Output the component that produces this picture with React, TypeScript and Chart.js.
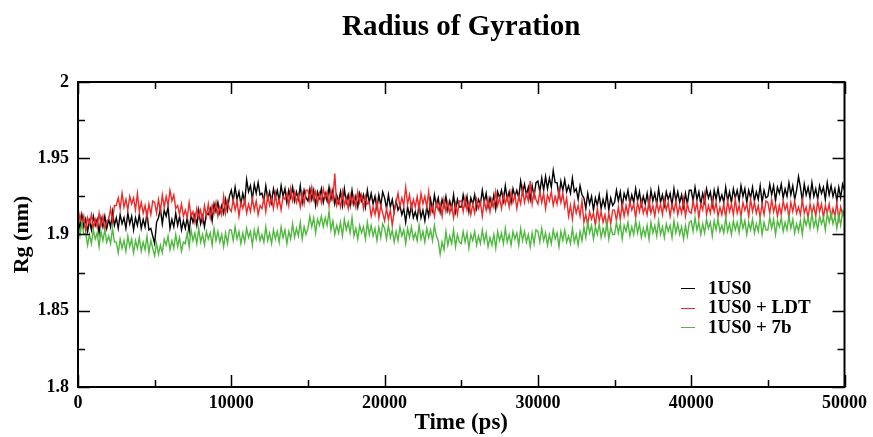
import React, { useEffect, useRef } from "react";
import { Chart, registerables } from "chart.js";

Chart.register(...registerables);

const TIME_STEP_PS = 125;

const rg1US0 = [
  1.911,1.904,1.913,1.905,1.910,1.902,1.909,1.903,1.912,1.906,1.910,1.901,1.911,1.905,1.912,1.904,1.910,1.905,1.915,1.906,1.911,1.904,1.913,1.907,1.911,1.904,1.914,1.907,1.912,1.903,1.911,1.906,1.913,1.904,1.910,1.905,1.914,1.903,1.904,1.899,
  1.894,1.908,1.911,1.917,1.907,1.916,1.912,1.918,1.904,1.910,1.905,1.914,1.906,1.912,1.903,1.909,1.904,1.911,1.902,1.913,1.908,1.913,1.906,1.916,1.907,1.912,1.905,1.914,1.913,1.917,1.909,1.920,1.915,1.921,1.914,1.919,1.914,1.923,1.916,1.925,
  1.929,1.922,1.931,1.923,1.928,1.920,1.927,1.921,1.936,1.928,1.932,1.923,1.933,1.927,1.934,1.926,1.927,1.922,1.932,1.923,1.928,1.921,1.930,1.924,1.929,1.922,1.932,1.925,1.930,1.921,1.929,1.924,1.931,1.922,1.928,1.923,1.932,1.921,1.929,1.924,
  1.922,1.930,1.923,1.929,1.919,1.928,1.924,1.930,1.921,1.927,1.922,1.931,1.923,1.929,1.920,1.926,1.921,1.928,1.919,1.930,1.921,1.926,1.919,1.929,1.920,1.925,1.918,1.927,1.922,1.926,1.918,1.929,1.921,1.927,1.920,1.925,1.917,1.926,1.919,1.928,
  1.924,1.917,1.926,1.918,1.923,1.915,1.922,1.916,1.919,1.913,1.917,1.908,1.918,1.912,1.919,1.911,1.915,1.910,1.920,1.911,1.916,1.909,1.918,1.912,1.923,1.916,1.926,1.919,1.924,1.915,1.923,1.918,1.925,1.916,1.922,1.917,1.926,1.915,1.923,1.918,
  1.918,1.926,1.919,1.925,1.915,1.924,1.920,1.926,1.917,1.923,1.920,1.929,1.921,1.927,1.918,1.924,1.919,1.926,1.917,1.928,1.924,1.929,1.922,1.932,1.923,1.928,1.921,1.930,1.925,1.929,1.924,1.935,1.927,1.933,1.926,1.931,1.923,1.932,1.925,1.934,
  1.935,1.928,1.937,1.929,1.938,1.930,1.937,1.931,1.942,1.934,1.934,1.925,1.935,1.929,1.936,1.928,1.932,1.927,1.937,1.928,1.930,1.923,1.932,1.926,1.924,1.917,1.927,1.920,1.925,1.916,1.924,1.919,1.926,1.917,1.923,1.918,1.927,1.916,1.924,1.919,
  1.921,1.929,1.922,1.928,1.918,1.927,1.923,1.929,1.920,1.926,1.921,1.930,1.922,1.928,1.919,1.925,1.920,1.927,1.918,1.929,1.922,1.927,1.920,1.930,1.921,1.926,1.919,1.928,1.923,1.927,1.919,1.930,1.922,1.928,1.921,1.926,1.918,1.927,1.920,1.929,
  1.929,1.922,1.931,1.923,1.928,1.920,1.927,1.921,1.930,1.924,1.928,1.919,1.929,1.923,1.930,1.922,1.926,1.921,1.931,1.922,1.928,1.921,1.930,1.924,1.929,1.922,1.932,1.925,1.930,1.921,1.929,1.924,1.931,1.922,1.928,1.923,1.932,1.921,1.929,1.924,
  1.925,1.933,1.926,1.932,1.922,1.931,1.927,1.933,1.924,1.930,1.925,1.934,1.926,1.932,1.923,1.929,1.938,1.931,1.922,1.933,1.926,1.931,1.924,1.934,1.925,1.930,1.923,1.932,1.927,1.931,1.923,1.934,1.926,1.932,1.925,1.930,1.922,1.931,1.924,1.933,1.929,
];

const rgLDT = [
  1.905,1.913,1.906,1.912,1.902,1.911,1.907,1.913,1.904,1.910,1.905,1.914,1.906,1.912,1.903,1.909,1.910,1.917,1.908,1.919,1.919,1.924,1.917,1.927,1.918,1.923,1.916,1.925,1.920,1.924,1.916,1.927,1.915,1.921,1.914,1.919,1.911,1.920,1.913,1.922,
  1.921,1.914,1.923,1.915,1.926,1.918,1.925,1.919,1.929,1.922,1.926,1.917,1.919,1.913,1.920,1.912,1.916,1.911,1.921,1.912,1.915,1.908,1.917,1.911,1.916,1.909,1.919,1.912,1.920,1.911,1.919,1.914,1.921,1.912,1.918,1.913,1.925,1.914,1.922,1.917,
  1.915,1.923,1.916,1.922,1.912,1.921,1.917,1.923,1.914,1.920,1.915,1.924,1.916,1.922,1.913,1.919,1.917,1.924,1.915,1.926,1.919,1.924,1.917,1.927,1.918,1.923,1.916,1.925,1.923,1.927,1.919,1.930,1.922,1.928,1.921,1.926,1.918,1.927,1.920,1.929,
  1.929,1.922,1.931,1.923,1.928,1.920,1.927,1.921,1.930,1.924,1.928,1.919,1.929,1.923,1.940,1.919,1.923,1.918,1.928,1.919,1.924,1.917,1.926,1.920,1.925,1.918,1.928,1.921,1.926,1.917,1.925,1.920,1.921,1.912,1.918,1.913,1.922,1.911,1.919,1.914,
  1.909,1.917,1.910,1.916,1.906,1.915,1.921,1.927,1.918,1.924,1.919,1.931,1.920,1.926,1.917,1.923,1.918,1.925,1.916,1.927,1.920,1.925,1.918,1.928,1.914,1.919,1.912,1.921,1.916,1.920,1.912,1.923,1.915,1.921,1.914,1.919,1.911,1.920,1.913,1.922,
  1.922,1.915,1.924,1.916,1.921,1.913,1.920,1.914,1.923,1.917,1.921,1.912,1.922,1.916,1.923,1.915,1.923,1.918,1.928,1.919,1.924,1.917,1.926,1.920,1.925,1.918,1.928,1.921,1.926,1.917,1.925,1.920,1.930,1.921,1.927,1.922,1.935,1.920,1.928,1.923,
  1.920,1.928,1.921,1.927,1.917,1.926,1.922,1.928,1.919,1.925,1.920,1.929,1.921,1.927,1.918,1.924,1.912,1.919,1.910,1.921,1.914,1.919,1.912,1.922,1.908,1.913,1.906,1.915,1.910,1.914,1.906,1.917,1.909,1.915,1.908,1.913,1.905,1.914,1.907,1.916,
  1.916,1.909,1.918,1.910,1.920,1.912,1.919,1.913,1.922,1.916,1.920,1.911,1.921,1.915,1.922,1.914,1.918,1.913,1.923,1.914,1.919,1.912,1.921,1.915,1.920,1.913,1.923,1.916,1.921,1.912,1.920,1.915,1.922,1.913,1.919,1.914,1.923,1.912,1.920,1.915,
  1.914,1.922,1.915,1.921,1.911,1.920,1.916,1.926,1.913,1.919,1.914,1.923,1.915,1.921,1.912,1.918,1.913,1.920,1.911,1.922,1.915,1.920,1.913,1.923,1.914,1.919,1.912,1.921,1.916,1.920,1.912,1.923,1.915,1.921,1.914,1.919,1.911,1.920,1.913,1.922,
  1.921,1.914,1.923,1.915,1.920,1.912,1.919,1.913,1.922,1.916,1.920,1.911,1.921,1.915,1.922,1.914,1.918,1.913,1.923,1.914,1.918,1.911,1.920,1.914,1.919,1.912,1.922,1.915,1.920,1.911,1.919,1.914,1.920,1.911,1.917,1.912,1.921,1.910,1.918,1.913,1.916,
];

const rg7b = [
  1.906,1.899,1.908,1.900,1.901,1.893,1.900,1.894,1.903,1.897,1.901,1.892,1.902,1.896,1.903,1.895,1.899,1.894,1.904,1.895,1.895,1.888,1.897,1.891,1.896,1.889,1.899,1.892,1.897,1.888,1.896,1.891,1.898,1.889,1.895,1.890,1.899,1.888,1.896,1.891,
  1.886,1.894,1.887,1.893,1.888,1.897,1.893,1.899,1.890,1.896,1.891,1.900,1.892,1.898,1.889,1.895,1.894,1.901,1.892,1.903,1.896,1.901,1.894,1.904,1.895,1.900,1.893,1.902,1.897,1.901,1.893,1.904,1.896,1.902,1.895,1.900,1.892,1.901,1.894,1.903,
  1.903,1.896,1.905,1.897,1.902,1.894,1.901,1.895,1.904,1.898,1.902,1.893,1.903,1.897,1.904,1.896,1.900,1.895,1.905,1.896,1.901,1.894,1.903,1.897,1.902,1.895,1.905,1.898,1.903,1.894,1.902,1.897,1.907,1.898,1.904,1.899,1.908,1.897,1.905,1.900,
  1.904,1.912,1.905,1.911,1.901,1.910,1.906,1.912,1.905,1.911,1.906,1.915,1.903,1.909,1.900,1.906,1.901,1.908,1.899,1.910,1.903,1.908,1.901,1.911,1.899,1.904,1.897,1.906,1.901,1.905,1.897,1.908,1.900,1.906,1.899,1.904,1.896,1.905,1.898,1.907,
  1.904,1.897,1.906,1.898,1.903,1.895,1.902,1.896,1.905,1.899,1.903,1.894,1.904,1.898,1.905,1.897,1.901,1.896,1.906,1.897,1.902,1.895,1.904,1.898,1.903,1.896,1.906,1.899,1.896,1.887,1.895,1.890,1.902,1.893,1.899,1.894,1.903,1.892,1.900,1.895,
  1.894,1.902,1.895,1.901,1.891,1.900,1.896,1.902,1.893,1.899,1.894,1.903,1.895,1.901,1.892,1.898,1.893,1.900,1.891,1.902,1.896,1.901,1.894,1.904,1.895,1.900,1.893,1.902,1.897,1.901,1.893,1.904,1.896,1.902,1.895,1.900,1.892,1.901,1.894,1.903,
  1.902,1.895,1.904,1.896,1.901,1.893,1.900,1.894,1.903,1.897,1.901,1.892,1.902,1.896,1.903,1.895,1.899,1.894,1.904,1.895,1.900,1.893,1.902,1.896,1.905,1.898,1.908,1.901,1.906,1.897,1.905,1.900,1.907,1.898,1.904,1.899,1.908,1.897,1.905,1.900,
  1.900,1.908,1.901,1.907,1.897,1.906,1.902,1.908,1.899,1.905,1.900,1.909,1.901,1.907,1.898,1.904,1.899,1.906,1.897,1.908,1.901,1.906,1.899,1.909,1.900,1.905,1.898,1.907,1.902,1.906,1.898,1.909,1.901,1.907,1.900,1.905,1.897,1.906,1.899,1.908,
  1.909,1.902,1.911,1.903,1.908,1.900,1.907,1.901,1.910,1.904,1.908,1.899,1.909,1.903,1.910,1.902,1.906,1.901,1.911,1.902,1.907,1.900,1.909,1.903,1.908,1.901,1.911,1.904,1.909,1.900,1.908,1.903,1.910,1.901,1.907,1.902,1.911,1.900,1.908,1.903,
  1.903,1.911,1.904,1.910,1.900,1.909,1.905,1.911,1.902,1.908,1.903,1.912,1.904,1.910,1.901,1.907,1.902,1.909,1.900,1.911,1.906,1.911,1.904,1.914,1.905,1.910,1.903,1.912,1.907,1.911,1.903,1.914,1.908,1.914,1.907,1.912,1.904,1.913,1.906,1.915,1.911,
];

const seriesLabels = ["1US0", "1US0 + LDT", "1US0 + 7b"];
const seriesColors = ["#000000", "#f02828", "#4fb83f"];
const seriesOrder = [3, 2, 1];
const chartTitle = "Radius of Gyration";
const xTitle = "Time (ps)";
const yTitle = "Rg (nm)";
const xMin = 0;
const xMax = 50000;
const yMin = 1.8;
const yMax = 2.0;

const FONT = "'Liberation Serif', 'Times New Roman', serif";

const toPoints = (vals: number[]) => vals.map((v, i) => ({ x: i * TIME_STEP_PS, y: v }));

const framePlugin = {
  id: "frameTicks",
  afterDraw(chart: any) {
    const { ctx, chartArea, scales } = chart;
    const { left, right, top, bottom } = chartArea;
    const xs = scales.x;
    const ys = scales.y;
    ctx.save();
    ctx.strokeStyle = "#000";
    ctx.lineWidth = 1.5;
    for (let v = xMin; v <= xMax; v += 5000) {
      const px = Math.round(xs.getPixelForValue(v)) + 0.5;
      const len = v % 10000 === 0 ? 12 : 7;
      ctx.beginPath();
      ctx.moveTo(px, bottom);
      ctx.lineTo(px, bottom - len);
      ctx.moveTo(px, top);
      ctx.lineTo(px, top + len);
      ctx.stroke();
    }
    for (let k = 0; k <= 8; k++) {
      const v = yMin + k * 0.025;
      const py = Math.round(ys.getPixelForValue(v)) + 0.5;
      const len = k % 2 === 0 ? 12 : 7;
      ctx.beginPath();
      ctx.moveTo(left, py);
      ctx.lineTo(left + len, py);
      ctx.moveTo(right, py);
      ctx.lineTo(right - len, py);
      ctx.stroke();
    }
    ctx.lineWidth = 2;
    ctx.strokeRect(left, top, right - left, bottom - top);

    // title
    ctx.fillStyle = "#000";
    ctx.font = `bold 29px ${FONT}`;
    ctx.textAlign = "center";
    ctx.textBaseline = "alphabetic";
    ctx.fillText(chartTitle, (left + right) / 2, 35);

    // legend
    ctx.font = `bold 19px ${FONT}`;
    ctx.textAlign = "left";
    ctx.textBaseline = "middle";
    chart.data.datasets.forEach((ds: any, i: number) => {
      const cy = 288 + i * 19.5;
      ctx.strokeStyle = ds.borderColor;
      ctx.lineWidth = 1;
      ctx.beginPath();
      ctx.moveTo(681, Math.round(cy) + 0.5);
      ctx.lineTo(695, Math.round(cy) + 0.5);
      ctx.stroke();
      ctx.fillStyle = "#000";
      ctx.fillText(ds.label, 708, cy + 1);
    });
    ctx.restore();
  },
};

export default function App() {
  const ref = useRef<HTMLCanvasElement | null>(null);

  useEffect(() => {
    document.body.style.margin = "0";
    const canvas = ref.current;
    if (!canvas) return;
    const chart = new Chart(canvas, {
      type: "line",
      data: {
        datasets: [rg1US0, rgLDT, rg7b].map((vals, i) => ({
          label: seriesLabels[i],
          data: toPoints(vals),
          borderColor: seriesColors[i],
          backgroundColor: seriesColors[i],
          borderWidth: 1.4,
          pointRadius: 0,
          tension: 0,
          fill: false,
          order: seriesOrder[i],
        })),
      },
      options: {
        responsive: false,
        animation: false,
        devicePixelRatio: 1,
        layout: { padding: { top: 82, right: 26, bottom: 0, left: 0 } },
        plugins: {
          legend: { display: false },
          title: { display: false },
          tooltip: { enabled: false },
        },
        scales: {
          x: {
            type: "linear",
            min: xMin,
            max: xMax,
            grid: { display: false, drawTicks: false },
            border: { display: false },
            ticks: {
              stepSize: 10000,
              padding: 6,
              color: "#000",
              font: { family: FONT, size: 18, weight: "bold" },
              maxRotation: 0,
              callback: (v: any) => String(v),
            },
            title: {
              display: true,
              text: xTitle,
              color: "#000",
              font: { family: FONT, size: 23, weight: "bold" },
              padding: { top: 0, bottom: 0 },
            },
            afterFit: (s: any) => {
              s.height = 50;
            },
          },
          y: {
            type: "linear",
            min: yMin,
            max: yMax,
            grid: { display: false, drawTicks: false },
            border: { display: false },
            ticks: {
              stepSize: 0.05,
              padding: 9,
              color: "#000",
              font: { family: FONT, size: 18, weight: "bold" },
              callback: (v: any) => String(Number(Number(v).toFixed(2))),
            },
            title: {
              display: true,
              text: yTitle,
              color: "#000",
              font: { family: FONT, size: 22, weight: "bold" },
              padding: { top: 9, bottom: 0 },
            },
            afterFit: (s: any) => {
              s.width = 78;
            },
          },
        },
      },
      plugins: [framePlugin],
    });
    return () => chart.destroy();
  }, []);

  return (
    <div style={{ width: 873, height: 437, background: "#fff" }}>
      <canvas ref={ref} width={873} height={437} />
    </div>
  );
}
